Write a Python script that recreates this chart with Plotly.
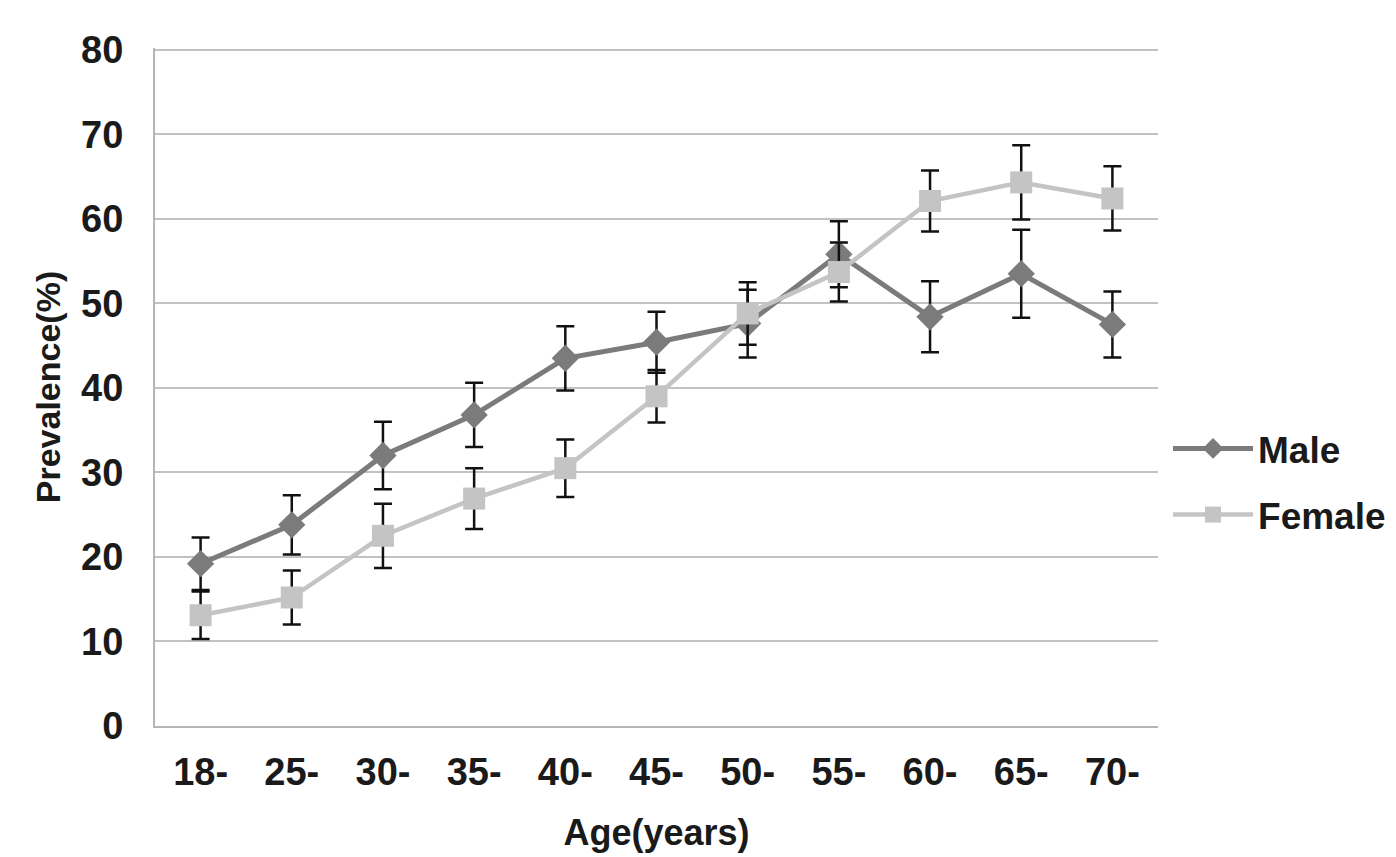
import plotly.graph_objects as go

ages = ["18-", "25-", "30-", "35-", "40-", "45-", "50-", "55-", "60-", "65-", "70-"]
male = [19.2, 23.8, 32.0, 36.8, 43.5, 45.4, 47.6, 55.8, 48.4, 53.5, 47.5]
male_err = [3.1, 3.5, 4.0, 3.8, 3.8, 3.6, 4.0, 3.9, 4.2, 5.2, 3.9]
female = [13.1, 15.2, 22.5, 26.9, 30.5, 39.0, 48.8, 53.7, 62.1, 64.3, 62.4]
female_err = [2.8, 3.2, 3.8, 3.6, 3.4, 3.1, 3.7, 3.5, 3.6, 4.4, 3.8]

font_family = "Arial, Liberation Sans, sans-serif"

fig = go.Figure()
fig.add_trace(go.Scatter(
    x=ages, y=male, name="Male", mode="lines+markers", legendgroup="m",
    line=dict(color="#7b7b7b", width=5),
    marker=dict(symbol="diamond", size=21, color="#7b7b7b"),
    error_y=dict(type="data", array=male_err, visible=True, color="#111111", thickness=2.5, width=9),
))
fig.add_trace(go.Scatter(
    x=ages, y=female, name="Female", mode="lines+markers", legendgroup="f",
    line=dict(color="#c4c4c4", width=4.5),
    marker=dict(symbol="square", size=22, color="#c4c4c4"),
    error_y=dict(type="data", array=female_err, visible=True, color="#111111", thickness=2.5, width=9),
))

fig.update_layout(
    width=1396, height=857,
    margin=dict(l=155, r=238, t=48, b=131, autoexpand=False),
    paper_bgcolor="white", plot_bgcolor="white",
    font=dict(family=font_family, size=36, color="#1a1a1a"),
    legend=dict(
        x=1.01, y=0.36, xanchor="left", yanchor="middle",
        font=dict(family=font_family, size=37, color="#1a1a1a", weight="bold"),
        itemwidth=80, tracegroupgap=15, bgcolor="rgba(0,0,0,0)",
    ),
    showlegend=True,
)
fig.update_xaxes(
    type="category", range=[-0.5, 10.5], automargin=False,
    showgrid=False, showline=True, linecolor="#b5b5b5", linewidth=2,
    ticks="", ticklabelstandoff=11,
    tickfont=dict(family=font_family, size=38, weight="bold"),
    title=dict(text="<b>Age(years)</b>", font=dict(family=font_family, size=36), standoff=28),
)
fig.update_yaxes(
    range=[0, 80.2], tickvals=[0, 10, 20, 30, 40, 50, 60, 70, 80], automargin=False,
    showgrid=True, gridcolor="#c2c2c2", gridwidth=2,
    showline=True, linecolor="#b5b5b5", linewidth=2, zeroline=False,
    ticks="", ticklabelstandoff=22,
    tickfont=dict(family=font_family, size=38, weight="bold"),
    title=dict(text="<b>Prevalence(%)</b>", font=dict(family=font_family, size=34), standoff=10),
)

fig.write_html("out.html")
